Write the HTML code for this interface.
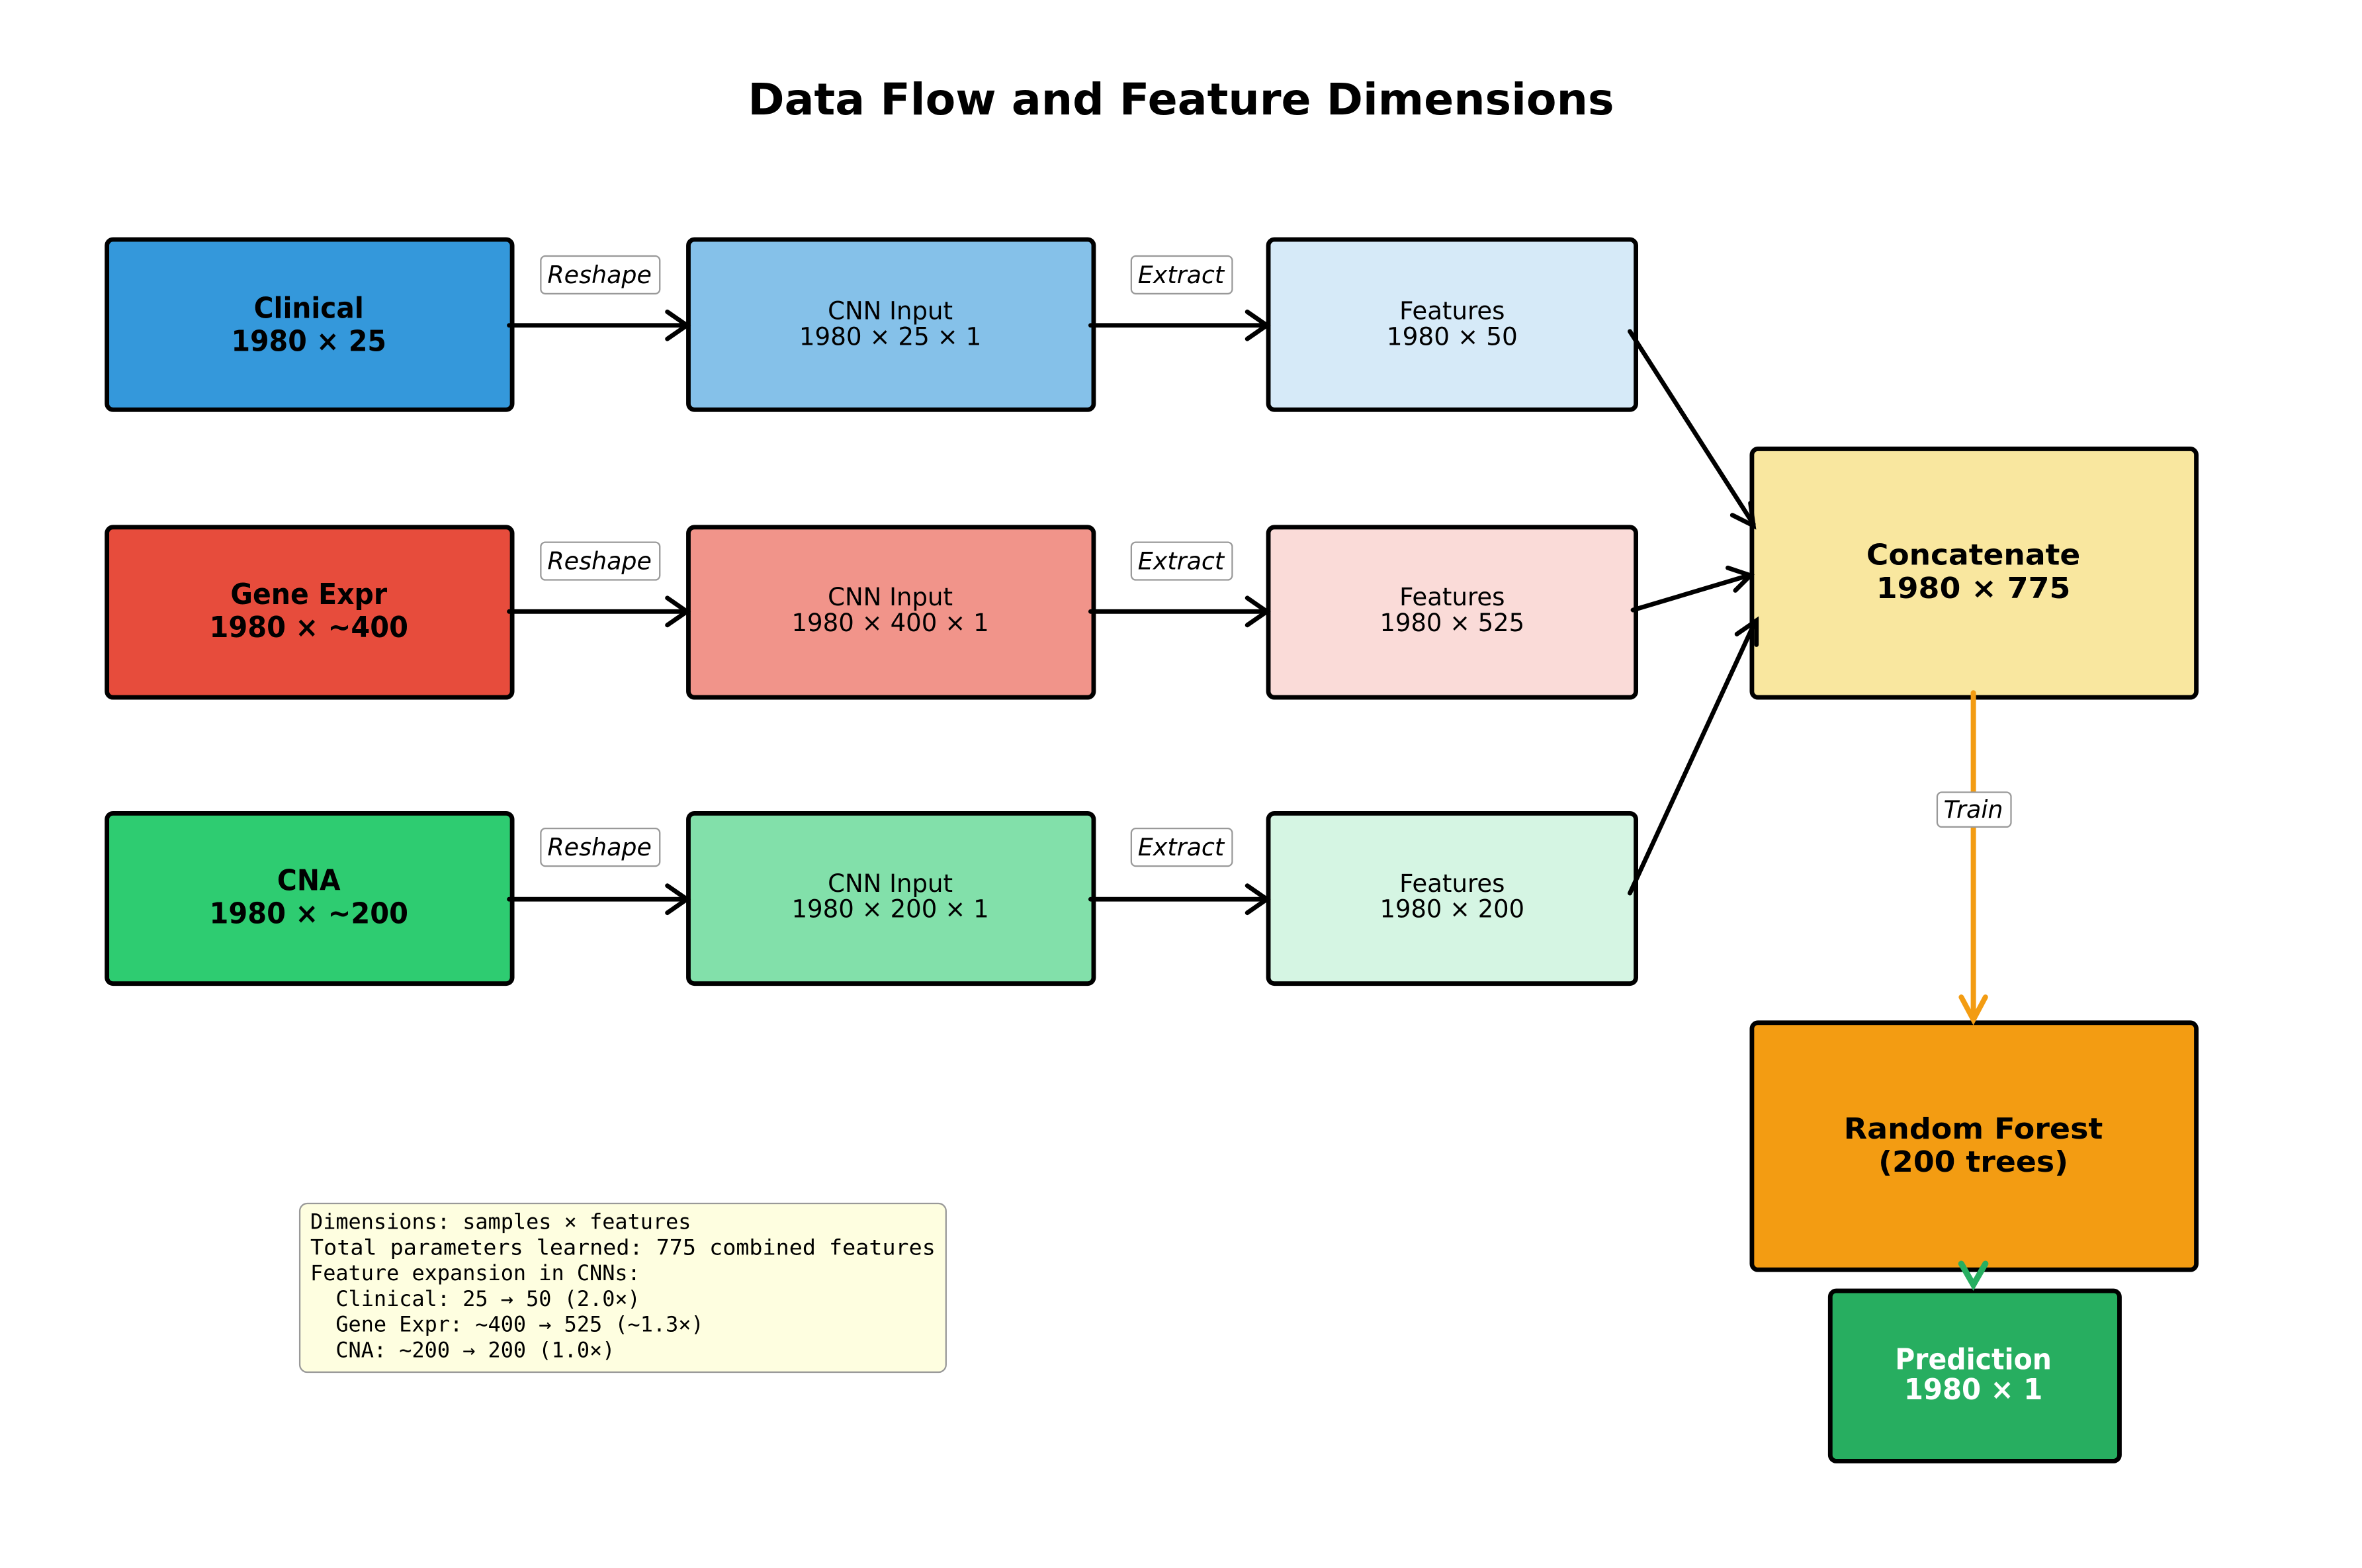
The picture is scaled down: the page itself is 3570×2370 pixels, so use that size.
<!DOCTYPE html>
<html><head><meta charset="utf-8"><style>html,body{margin:0;padding:0;background:#fff}svg{display:block}.pre text{white-space:pre}</style></head>
<body>
<svg width="3570" height="2370" viewBox="0 0 1568 1041" preserveAspectRatio="none" xmlns="http://www.w3.org/2000/svg" font-family="DejaVu Sans, Liberation Sans, sans-serif">
<rect width="1568" height="1041" fill="#fff"/>
<text x="784" y="76" font-size="29" font-weight="bold" text-anchor="middle" textLength="575" lengthAdjust="spacingAndGlyphs">Data Flow and Feature Dimensions</text>
<g stroke="#000" stroke-width="3">
<rect x="71" y="159" width="269" height="113" rx="4" fill="#3498db"/>
<rect x="457" y="159" width="269" height="113" rx="4" fill="#85c1e9"/>
<rect x="842" y="159" width="244" height="113" rx="4" fill="#d6eaf8"/>
<rect x="71" y="350" width="269" height="113" rx="4" fill="#e74c3c"/>
<rect x="457" y="350" width="269" height="113" rx="4" fill="#f1948a"/>
<rect x="842" y="350" width="244" height="113" rx="4" fill="#fadbd8"/>
<rect x="71" y="540" width="269" height="113" rx="4" fill="#2ecc71"/>
<rect x="457" y="540" width="269" height="113" rx="4" fill="#82e0aa"/>
<rect x="842" y="540" width="244" height="113" rx="4" fill="#d5f5e3"/>
<rect x="1163" y="298" width="295" height="165" rx="4" fill="#f9e79f"/>
<rect x="1163" y="679" width="295" height="164" rx="4" fill="#f39c12"/>
<rect x="1215" y="857" width="192" height="113" rx="4" fill="#27ae60"/>
</g>
<g stroke="#000" stroke-width="3" fill="none" stroke-linecap="round">
<line x1="338" y1="216" x2="455" y2="216"/><polyline points="443,207 456,216 443,225"/>
<line x1="724" y1="216" x2="840" y2="216"/><polyline points="828,207 841,216 828,225"/>
<line x1="338" y1="406" x2="455" y2="406"/><polyline points="443,397 456,406 443,415"/>
<line x1="724" y1="406" x2="840" y2="406"/><polyline points="828,397 841,406 828,415"/>
<line x1="338" y1="597" x2="455" y2="597"/><polyline points="443,588 456,597 443,606"/>
<line x1="724" y1="597" x2="840" y2="597"/><polyline points="828,588 841,597 828,606"/>
<line x1="1082" y1="220" x2="1164" y2="348"/><polyline points="1150,342 1164,349 1162,334"/>
<line x1="1084" y1="405" x2="1161" y2="382"/><polyline points="1147,377 1162,382 1152,392"/>
<line x1="1082" y1="593" x2="1165" y2="413"/><polyline points="1153,421 1166,412 1166,428"/>
</g>
<g stroke="#f39c12" stroke-width="3.5" fill="none" stroke-linecap="round">
<line x1="1310" y1="460" x2="1310" y2="676"/><polyline points="1302,662 1310,677 1318,662"/>
</g>
<polyline points="1302,839 1310,853 1318,839" stroke="#27ae60" stroke-width="4" fill="none" stroke-linecap="round"/>
<g fill="#fff" stroke="#999" stroke-width="1">
<rect x="359" y="170" width="79" height="25" rx="3"/><rect x="751" y="170" width="67" height="25" rx="3"/>
<rect x="359" y="360" width="79" height="25" rx="3"/><rect x="751" y="360" width="67" height="25" rx="3"/>
<rect x="359" y="550" width="79" height="25" rx="3"/><rect x="751" y="550" width="67" height="25" rx="3"/>
<rect x="1286" y="526" width="49" height="23" rx="3"/>
</g>
<g font-size="16" font-style="italic" text-anchor="middle">
<text x="398" y="188">Reshape</text><text x="784" y="188">Extract</text>
<text x="398" y="378">Reshape</text><text x="784" y="378">Extract</text>
<text x="398" y="568">Reshape</text><text x="784" y="568">Extract</text>
<text x="1310" y="543">Train</text>
</g>
<g font-size="19" font-weight="bold" text-anchor="middle">
<text x="205" y="211" textLength="73" lengthAdjust="spacingAndGlyphs">Clinical</text><text x="205" y="233" textLength="103" lengthAdjust="spacingAndGlyphs">1980 × 25</text>
<text x="205" y="401" textLength="104" lengthAdjust="spacingAndGlyphs">Gene Expr</text><text x="205" y="423" textLength="132" lengthAdjust="spacingAndGlyphs">1980 × ~400</text>
<text x="205" y="591" textLength="42" lengthAdjust="spacingAndGlyphs">CNA</text><text x="205" y="613" textLength="132" lengthAdjust="spacingAndGlyphs">1980 × ~200</text>
<text x="1310" y="375" textLength="142" lengthAdjust="spacingAndGlyphs">Concatenate</text><text x="1310" y="397" textLength="129" lengthAdjust="spacingAndGlyphs">1980 × 775</text>
<text x="1310" y="756" textLength="172" lengthAdjust="spacingAndGlyphs">Random Forest</text><text x="1310" y="778" textLength="126" lengthAdjust="spacingAndGlyphs">(200 trees)</text>
<g fill="#fff"><text x="1310" y="909" textLength="104" lengthAdjust="spacingAndGlyphs">Prediction</text><text x="1310" y="929" textLength="92" lengthAdjust="spacingAndGlyphs">1980 × 1</text></g>
</g>
<g font-size="16.5" text-anchor="middle">
<text x="591" y="212" textLength="83" lengthAdjust="spacingAndGlyphs">CNN Input</text><text x="591" y="229" textLength="121" lengthAdjust="spacingAndGlyphs">1980 × 25 × 1</text>
<text x="591" y="402" textLength="83" lengthAdjust="spacingAndGlyphs">CNN Input</text><text x="591" y="419" textLength="131" lengthAdjust="spacingAndGlyphs">1980 × 400 × 1</text>
<text x="591" y="592" textLength="83" lengthAdjust="spacingAndGlyphs">CNN Input</text><text x="591" y="609" textLength="131" lengthAdjust="spacingAndGlyphs">1980 × 200 × 1</text>
<text x="964" y="212" textLength="70" lengthAdjust="spacingAndGlyphs">Features</text><text x="964" y="229" textLength="87" lengthAdjust="spacingAndGlyphs">1980 × 50</text>
<text x="964" y="402" textLength="70" lengthAdjust="spacingAndGlyphs">Features</text><text x="964" y="419" textLength="96" lengthAdjust="spacingAndGlyphs">1980 × 525</text>
<text x="964" y="592" textLength="70" lengthAdjust="spacingAndGlyphs">Features</text><text x="964" y="609" textLength="96" lengthAdjust="spacingAndGlyphs">1980 × 200</text>
</g>
<rect x="199" y="799" width="429" height="112" rx="5" fill="#fefee0" stroke="#999" stroke-width="1"/>
<g class="pre" font-family="DejaVu Sans Mono, Liberation Mono, monospace" font-size="14">
<text x="206" y="816">Dimensions: samples × features</text>
<text x="206" y="833" textLength="415" lengthAdjust="spacingAndGlyphs">Total parameters learned: 775 combined features</text>
<text x="206" y="850">Feature expansion in CNNs:</text>
<text x="206" y="867">  Clinical: 25 → 50 (2.0×)</text>
<text x="206" y="884">  Gene Expr: ~400 → 525 (~1.3×)</text>
<text x="206" y="901">  CNA: ~200 → 200 (1.0×)</text>
</g>
</svg>
</body></html>
